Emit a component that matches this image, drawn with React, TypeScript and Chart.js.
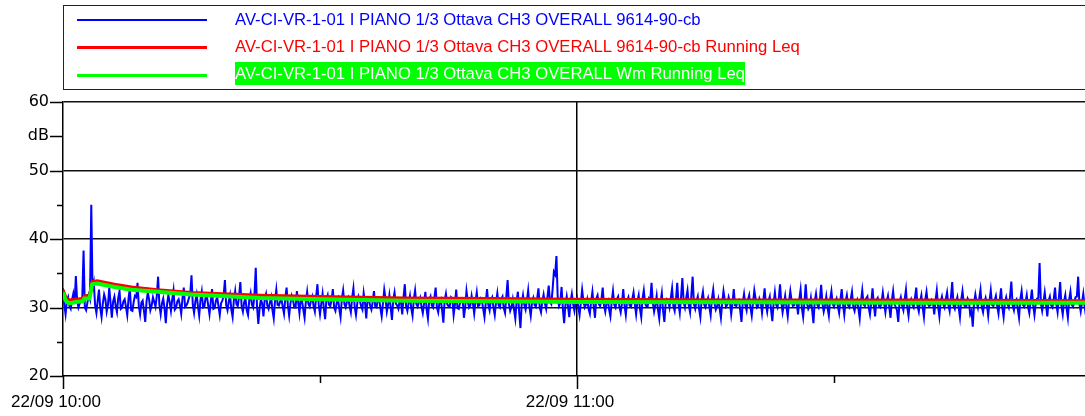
import React, { useEffect, useRef } from "react";
import { Chart, registerables } from "chart.js";

Chart.register(...registerables);

const SERIES_NAMES = [
  "AV-CI-VR-1-01 I PIANO 1/3 Ottava CH3 OVERALL 9614-90-cb",
  "AV-CI-VR-1-01 I PIANO 1/3 Ottava CH3 OVERALL 9614-90-cb Running Leq",
  "AV-CI-VR-1-01 I PIANO 1/3 Ottava CH3 OVERALL Wm Running Leq",
];
const SERIES_COLORS = ["#0000ff", "#ff0000", "#00ff00"];

const X_TICK_MINUTES = [0, 60];
const X_TICK_LABELS = ["22/09 10:00", "22/09 11:00"];
const X_MINOR_MINUTES = [30, 90];
const X_MAX_MINUTES = 119.3;

const Y_TICK_VALUES = [20, 30, 40, 50, 55, 60];
const Y_TICK_LABELS = ["20", "30", "40", "50", "dB", "60"];
const Y_GRID_VALUES = [30, 40, 50, 60];

// blue: samples every 0.3 min from 10:00 (A) and the samples 0.15 min later (B)
const BLUE_STEP_MIN = 0.3;
const BLUE_A = [
  32.8, 29.0, 31.5, 29.8, 32.0, 34.6, 30.0, 31.2, 38.3, 29.6, 31.8, 45.0, 33.5, 29.2, 32.6, 28.6, 31.9, 29.4, 32.9, 28.5,
  31.6, 29.3, 32.4, 30.0, 31.2, 28.9, 32.8, 29.5, 31.7, 33.6, 29.0, 31.0, 27.9, 32.2, 29.6, 31.5, 30.1, 34.5, 29.0, 31.3,
  27.7, 31.8, 29.5, 32.5, 30.0, 31.2, 29.1, 32.9, 30.3, 31.4, 34.7, 29.2, 31.9, 28.8, 32.3, 30.1, 31.6, 29.0, 32.7, 29.9,
  31.5, 28.9, 31.0, 34.0, 29.6, 31.8, 28.6, 32.4, 30.2, 33.7, 29.4, 31.3, 28.9, 32.1, 30.0, 35.8, 27.6, 31.2, 28.7, 32.0,
  29.8, 31.5, 28.4, 32.6, 30.3, 31.2, 29.1, 32.9, 28.8, 31.7, 30.0, 32.4, 29.2, 31.0, 28.5, 32.3, 30.1, 31.6, 29.4, 33.4,
  29.0, 32.0, 28.3, 31.8, 30.2, 32.7, 29.5, 31.3, 28.6, 32.5, 30.0, 31.4, 29.3, 32.8, 28.9, 31.6, 30.2, 32.1, 28.4, 31.2,
  29.7, 32.4, 30.0, 31.3, 28.7, 32.6, 29.4, 31.8, 28.2, 32.2, 30.3, 31.0, 29.0, 33.4, 29.5, 31.7, 28.8, 32.5, 30.1, 31.4,
  29.2, 32.3, 28.4, 31.6, 30.0, 32.9, 29.3, 31.2, 27.8, 32.0, 30.2, 31.5, 28.9, 32.6, 29.8, 31.1, 28.5, 32.4, 30.0, 31.7,
  29.1, 32.2, 30.3, 31.0, 28.6, 32.7, 29.6, 31.5, 28.9, 32.1, 30.0, 31.6, 29.2, 34.0, 29.5, 31.2, 28.4, 32.3, 27.0, 31.8,
  29.7, 32.5, 28.8, 31.4, 30.1, 32.8, 29.3, 31.9, 29.8, 33.2, 30.5, 35.2, 37.5, 30.2, 33.0, 27.7, 31.6, 28.6, 32.0, 29.5,
  31.4, 28.9, 32.6, 30.0, 31.2, 29.1, 32.3, 28.5, 31.8, 30.2, 32.9, 29.4, 31.1, 28.7, 32.4, 30.0, 31.6, 29.3, 32.7, 28.9,
  31.5, 30.1, 32.2, 29.0, 31.8, 28.6, 32.5, 30.2, 31.3, 33.6, 29.4, 31.7, 28.4, 32.1, 27.9, 31.2, 30.0, 32.8, 29.5, 33.6,
  29.2, 34.3, 30.0, 32.5, 29.3, 34.5, 29.8, 31.6, 28.6, 32.3, 30.0, 31.4, 28.9, 32.6, 29.7, 31.2, 28.5, 32.4, 30.1, 31.5,
  29.0, 32.7, 30.2, 31.1, 27.9, 32.0, 29.6, 31.8, 28.8, 32.5, 30.0, 31.3, 29.2, 32.8, 29.4, 31.6, 28.0, 32.2, 30.0, 33.4,
  29.3, 31.7, 28.7, 32.4, 30.2, 31.0, 29.0, 32.6, 28.6, 33.4, 29.8, 31.4, 27.7, 32.0, 30.0, 33.3, 29.4, 31.6, 28.8, 32.4,
  30.1, 31.3, 29.2, 32.7, 28.9, 31.8, 30.0, 32.3, 29.5, 31.1, 28.4, 32.5, 30.2, 31.6, 29.0, 32.8, 28.7, 31.4, 30.0, 32.2,
  29.3, 31.7, 28.5, 32.4, 30.1, 27.9, 31.5, 29.6, 32.6, 28.8, 31.2, 30.0, 32.9, 29.4, 31.8, 28.6, 32.3, 30.2, 31.1, 29.0,
  32.5, 28.7, 31.6, 30.0, 32.2, 29.5, 33.7, 29.8, 31.5, 28.6, 32.4, 30.1, 31.3, 29.0, 27.2, 31.9, 30.0, 32.6, 29.3, 31.4,
  28.8, 32.5, 30.2, 31.7, 29.1, 32.8, 28.6, 31.5, 30.0, 33.8, 29.6, 31.2, 28.5, 32.4, 30.1, 31.8, 29.2, 32.6, 28.9, 31.3,
  36.5, 29.5, 32.2, 28.7, 31.6, 30.0, 32.9, 29.3, 33.7, 29.0, 31.8, 28.5, 32.3, 30.1, 31.5, 34.5, 29.4, 32.0, 28.9, 31.5,
];
const BLUE_B = [
  30.4, 30.9, 30.2, 31.1, 30.5, 31.0, 30.6, 31.3, 30.0, 30.7, 31.2, 32.4, 30.3, 31.0, 29.9, 30.6, 31.2, 30.4, 30.7, 30.9,
  30.2, 31.4, 29.8, 30.9, 30.1, 31.3, 29.6, 30.8, 31.5, 30.2, 30.7, 29.5, 30.9, 31.2, 30.3, 30.8, 31.7, 30.4, 30.6, 29.9,
  30.5, 30.8, 31.2, 29.7, 30.9, 30.3, 31.4, 30.1, 30.7, 31.9, 30.4, 30.9, 30.2, 31.1, 30.0, 31.5, 30.3, 30.8, 29.8, 31.0,
  30.2, 30.6, 31.7, 30.3, 30.9, 29.7, 31.1, 30.5, 31.6, 30.2, 30.8, 29.6, 31.2, 30.4, 31.8, 30.1, 29.9, 30.6, 31.3, 30.3,
  30.7, 29.6, 31.0, 30.4, 30.9, 30.1, 31.4, 30.3, 30.6, 31.1, 30.0, 30.8, 31.3, 29.7, 30.9, 30.5, 31.0, 30.2, 31.6, 30.4,
  30.6, 29.9, 31.2, 30.4, 31.1, 30.0, 30.7, 29.8, 31.3, 30.5, 30.9, 30.2, 31.4, 30.1, 30.6, 31.0, 29.7, 30.8, 31.2, 30.3,
  30.8, 30.1, 31.2, 29.9, 30.6, 31.3, 30.4, 30.0, 31.1, 30.6, 29.8, 30.9, 31.5, 30.2, 30.7, 29.9, 31.2, 30.5, 30.8, 30.1,
  30.6, 29.7, 31.1, 30.3, 31.4, 30.0, 30.8, 29.6, 31.0, 30.5, 30.2, 31.3, 30.4, 29.9, 30.7, 31.2, 30.1, 30.9, 30.3, 30.6,
  30.9, 30.2, 31.3, 29.8, 30.7, 30.4, 31.1, 30.0, 30.8, 30.3, 31.2, 29.9, 31.6, 30.5, 30.1, 29.7, 30.9, 29.3, 30.6, 30.4,
  31.0, 30.1, 30.7, 30.4, 31.3, 30.0, 30.9, 30.6, 31.5, 30.8, 32.6, 34.8, 31.4, 30.7, 29.8, 30.4, 30.2, 30.9, 30.5, 30.8,
  30.1, 30.7, 31.0, 30.4, 29.8, 30.9, 30.2, 31.3, 30.5, 31.1, 30.3, 30.8, 29.7, 30.9, 30.4, 31.2, 30.1, 30.6, 30.3, 31.0,
  30.3, 31.2, 30.5, 30.9, 29.8, 31.3, 30.6, 30.2, 31.0, 30.7, 30.4, 29.7, 30.8, 29.5, 30.6, 30.9, 31.4, 30.2, 31.1, 30.5,
  31.6, 30.8, 31.4, 30.3, 31.8, 30.5, 30.9, 29.8, 31.2, 30.4, 30.8, 30.1, 31.3, 30.6, 30.2, 29.9, 30.7, 31.1, 30.4, 30.8,
  30.6, 30.3, 30.9, 29.6, 30.8, 30.4, 31.1, 30.0, 30.7, 31.3, 30.2, 30.8, 31.0, 30.5, 30.9, 29.7, 30.6, 30.4, 31.2, 30.7,
  30.5, 30.1, 30.9, 31.0, 30.3, 30.7, 31.2, 29.9, 30.8, 30.6, 30.2, 29.6, 30.9, 30.4, 31.1, 30.6, 30.3, 30.0, 31.2, 30.5,
  30.8, 30.2, 31.1, 30.4, 30.9, 30.3, 31.2, 30.1, 30.6, 29.8, 30.9, 30.5, 31.3, 30.0, 30.7, 30.4, 31.1, 30.2, 30.8, 30.6,
  30.9, 30.1, 31.0, 30.5, 29.6, 30.8, 30.3, 31.2, 30.1, 30.7, 30.4, 31.4, 30.2, 30.9, 30.0, 31.1, 30.6, 30.3, 30.8, 31.0,
  30.2, 30.9, 30.5, 31.2, 30.4, 31.5, 30.3, 30.8, 30.0, 31.1, 30.6, 30.2, 30.9, 29.5, 30.6, 30.8, 31.3, 30.1, 30.7, 30.4,
  30.9, 30.4, 31.0, 30.2, 31.1, 30.0, 30.7, 30.5, 31.6, 30.3, 30.9, 29.8, 31.2, 30.4, 30.7, 30.1, 31.0, 30.3, 30.6, 31.4,
  30.6, 30.8, 30.4, 31.0, 30.3, 31.2, 30.5, 31.4, 30.2, 30.9, 29.9, 31.1, 30.4, 30.8, 31.6, 30.5, 30.7, 30.2, 30.9, 30.6,
];

const RED_TIMES = [0, 0.3, 0.7, 1.5, 2.3, 2.5, 3.1, 3.4, 4, 6, 8, 11, 15, 23, 30, 40, 50, 60, 80, 100, 119.3];
const RED_VALUES = [32.6, 31.6, 31.1, 31.2, 31.3, 31.7, 31.8, 33.8, 33.9, 33.4, 33.0, 32.6, 32.2, 31.8, 31.6, 31.4, 31.3, 31.2, 31.1, 31.1, 31.0];

const GREEN_TIMES = [0, 0.3, 0.7, 1.5, 2.3, 2.5, 3.1, 3.4, 4, 6, 8, 11, 15, 23, 30, 40, 50, 60, 80, 100, 119.3];
const GREEN_VALUES = [32.2, 31.0, 30.6, 30.8, 30.9, 31.3, 31.3, 33.4, 33.5, 33.0, 32.6, 32.3, 31.9, 31.4, 31.2, 31.0, 30.9, 30.8, 30.75, 30.7, 30.7];

const W = 1085;
const H = 416;

const tickMarks = {
  id: "tickMarks",
  afterDraw(chart: any) {
    const { ctx, chartArea, scales } = chart;
    const ys = scales.y;
    const xs = scales.x;
    ctx.save();
    ctx.strokeStyle = "#000";
    ctx.lineWidth = 1.5;
    ctx.beginPath();
    for (let v = 20; v <= 60; v += 5) {
      const major = v % 10 === 0 || v === 55;
      const len = major ? 13 : 6;
      const y = Math.round(ys.getPixelForValue(v)) + 0.5;
      ctx.moveTo(chartArea.left - len, y);
      ctx.lineTo(chartArea.left, y);
    }
    X_TICK_MINUTES.forEach((m) => {
      const x = Math.round(xs.getPixelForValue(m)) + 0.5;
      ctx.moveTo(x, chartArea.bottom);
      ctx.lineTo(x, chartArea.bottom + 13);
    });
    X_MINOR_MINUTES.forEach((m) => {
      const x = Math.round(xs.getPixelForValue(m)) + 0.5;
      ctx.moveTo(x, chartArea.bottom);
      ctx.lineTo(x, chartArea.bottom + 7);
    });
    ctx.stroke();
    ctx.restore();
  },
};

function App() {
  const canvasRef = useRef<HTMLCanvasElement | null>(null);

  useEffect(() => {
    document.body.style.margin = "0";
    const canvas = canvasRef.current;
    if (!canvas) return;
    const blue: { x: number; y: number }[] = [];
    BLUE_A.forEach((v, i) => {
      blue.push({ x: i * BLUE_STEP_MIN, y: v });
      blue.push({ x: i * BLUE_STEP_MIN + BLUE_STEP_MIN / 2, y: BLUE_B[i] });
    });
    const red = RED_VALUES.map((v, i) => ({ x: RED_TIMES[i], y: v }));
    const green = GREEN_VALUES.map((v, i) => ({ x: GREEN_TIMES[i], y: v }));

    const chart = new Chart(canvas, {
      type: "line",
      data: {
        datasets: [
          {
            label: SERIES_NAMES[0],
            data: blue,
            borderColor: SERIES_COLORS[0],
            borderWidth: 2,
            pointRadius: 0,
            tension: 0,
            order: 3,
          },
          {
            label: SERIES_NAMES[1],
            data: red,
            borderColor: SERIES_COLORS[1],
            borderWidth: 3,
            pointRadius: 0,
            tension: 0,
            order: 2,
          },
          {
            label: SERIES_NAMES[2],
            data: green,
            borderColor: SERIES_COLORS[2],
            borderWidth: 4,
            pointRadius: 0,
            tension: 0,
            order: 1,
          },
        ],
      },
      options: {
        animation: false,
        responsive: false,
        maintainAspectRatio: false,
        layout: { padding: { top: 102, left: 0, right: 0, bottom: 0 } },
        plugins: { legend: { display: false }, tooltip: { enabled: false } },
        scales: {
          x: {
            type: "linear",
            min: 0,
            max: X_MAX_MINUTES,
            afterBuildTicks: (scale: any) => {
              scale.ticks = [0, 30, 60, 90].map((v) => ({ value: v }));
            },
            afterFit: (scale: any) => {
              scale.height = 40;
            },
            ticks: {
              autoSkip: false,
              maxRotation: 0,
              minRotation: 0,
              padding: 16,
              labelOffset: -7,
              color: "#000",
              font: { family: "Liberation Sans", size: 17 },
              callback: (v: any) => {
                const idx = X_TICK_MINUTES.indexOf(Number(v));
                return idx >= 0 ? X_TICK_LABELS[idx] : "";
              },
            },
            grid: {
              drawTicks: false,
              lineWidth: 1.5,
              color: (c: any) => (c.tick && c.tick.value === 60 ? "#000" : "rgba(0,0,0,0)"),
            },
            border: { color: "#000", width: 1.5 },
          },
          y: {
            type: "linear",
            min: 20,
            max: 60,
            afterBuildTicks: (scale: any) => {
              const t: any[] = [];
              for (let v = 20; v <= 60; v += 5) t.push({ value: v });
              scale.ticks = t;
            },
            afterFit: (scale: any) => {
              scale.width = 63;
            },
            ticks: {
              autoSkip: false,
              padding: 14,
              color: "#000",
              font: { family: "DejaVu Sans", size: 16 },
              callback: (v: any) => {
                const idx = Y_TICK_VALUES.indexOf(Number(v));
                return idx >= 0 ? Y_TICK_LABELS[idx] : "";
              },
            },
            grid: {
              drawTicks: false,
              lineWidth: 1.5,
              color: (c: any) =>
                c.tick && Y_GRID_VALUES.indexOf(c.tick.value) >= 0 ? "#111" : "rgba(0,0,0,0)",
            },
            border: { color: "#000", width: 1.5 },
          },
        },
      },
      plugins: [tickMarks],
    });
    return () => chart.destroy();
  }, []);

  const rowCenters = [19, 46, 73];
  const lineHeights = [2, 3, 3];
  const lineTops = [18.5, 45.5, 73.5];

  return (
    <div
      style={{
        position: "fixed",
        left: 0,
        top: 0,
        width: W,
        height: H,
        overflow: "hidden",
        background: "#fff",
      }}
    >
      <canvas ref={canvasRef} width={W} height={H} style={{ position: "absolute", left: 0, top: 0, width: W, height: H }} />
      <div
        style={{
          position: "absolute",
          left: 63,
          top: 5,
          width: 1040,
          height: 85,
          border: "1px solid #222",
          boxSizing: "border-box",
        }}
      />
      {SERIES_NAMES.map((name, i) => (
        <React.Fragment key={i}>
          <div
            style={{
              position: "absolute",
              left: 77,
              width: 130,
              top: lineTops[i],
              height: lineHeights[i],
              background: SERIES_COLORS[i],
            }}
          />
          <div
            style={{
              position: "absolute",
              left: 235,
              top: rowCenters[i] - 11.5,
              height: 23,
              lineHeight: "23px",
              fontFamily: "'Liberation Sans', Arial, sans-serif",
              fontSize: 16.7,
              whiteSpace: "nowrap",
              color: i === 2 ? "#fff" : SERIES_COLORS[i],
              background: i === 2 ? SERIES_COLORS[2] : "transparent",
            }}
          >
            {name}
          </div>
        </React.Fragment>
      ))}
    </div>
  );
}

export default App;
